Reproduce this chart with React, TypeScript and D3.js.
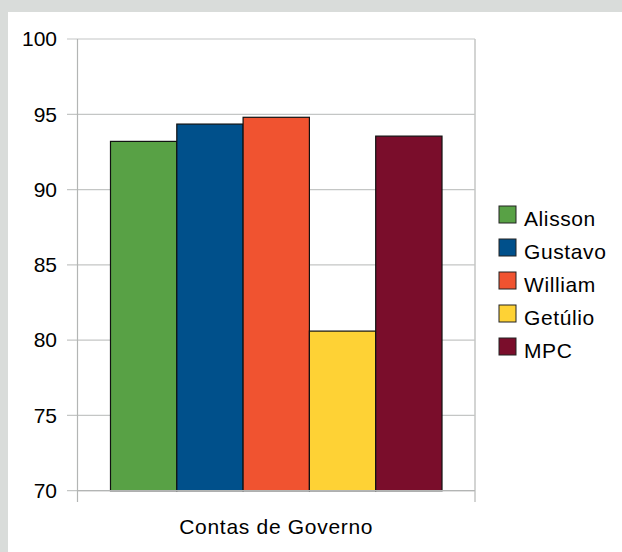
import React from "react";
import * as d3 from "d3";

const categories = ["Contas de Governo"];
const seriesNames = ["Alisson", "Gustavo", "William", "Getúlio", "MPC"];
const seriesValues = [93.2, 94.35, 94.8, 80.6, 93.55];
const seriesColors = ["#58a145", "#00508b", "#f05330", "#fed235", "#7a0d2b"];
const yTicks = [70, 75, 80, 85, 90, 95, 100];

const W = 622;
const H = 552;
const FONT = "'Liberation Sans', Arial, sans-serif";

export default function App() {
  const left = 77.5;
  const right = 475;
  const top = 39;
  const bottom = 490.7;

  const x = d3.scaleBand<string>().domain(categories).range([left, right]).padding(0);
  const y = d3.scaleLinear().domain([70, 100]).range([bottom, top]);

  const cat = categories[0];
  const x0 = x(cat) as number;
  const bw = x.bandwidth();
  const inner = d3
    .scaleBand<string>()
    .domain(seriesNames)
    .range([x0 + bw * 0.083, x0 + bw * 0.917])
    .padding(0);

  const legendX = 499;
  const legendBase = 226;
  const legendStep = 33;

  return (
    <svg
      width={W}
      height={H}
      style={{ position: "fixed", left: 0, top: 0, display: "block" }}
      fontFamily={FONT}
    >
      <rect x={0} y={0} width={W} height={H} fill="#d9dcda" />
      <rect x={8} y={12} width={W - 8} height={H - 12} fill="#ffffff" />

      {/* gridlines */}
      {yTicks.map((t) => (
        <line
          key={"g" + t}
          x1={left - 10.5}
          x2={right}
          y1={y(t)}
          y2={y(t)}
          stroke="#c4c6c5"
          strokeWidth={1.2}
        />
      ))}
      {/* y tick labels */}
      {yTicks.map((t) => (
        <text
          key={"l" + t}
          x={57}
          y={y(t) + 7.3}
          textAnchor="end"
          fontSize={21}
          fill="#000"
        >
          {t}
        </text>
      ))}

      {/* bars */}
      {seriesNames.map((s, i) => (
        <rect
          key={s}
          x={inner(s) as number}
          y={y(seriesValues[i])}
          width={inner.bandwidth()}
          height={y(70) - y(seriesValues[i])}
          fill={seriesColors[i]}
          stroke="#111"
          strokeWidth={1.2}
        />
      ))}

      {/* axes frame */}
      <line x1={left} x2={left} y1={top} y2={502} stroke="#b3b5b4" strokeWidth={1.2} />
      <line x1={right} x2={right} y1={top} y2={502} stroke="#c4c6c5" strokeWidth={1.5} />
      <line x1={left} x2={right} y1={bottom} y2={bottom} stroke="#b3b5b4" strokeWidth={1.2} />

      {/* category label */}
      <text
        x={x0 + bw / 2}
        y={534}
        textAnchor="middle"
        fontSize={21}
        letterSpacing={0.7}
        fill="#000"
      >
        {cat}
      </text>

      {/* legend */}
      {seriesNames.map((s, i) => (
        <g key={"lg" + s}>
          <rect
            x={legendX}
            y={legendBase + i * legendStep - 20}
            width={17}
            height={17}
            fill={seriesColors[i]}
            stroke="#222"
            strokeWidth={1}
          />
          <text
            x={524}
            y={legendBase + i * legendStep}
            fontSize={21}
            letterSpacing={0.6}
            fill="#000"
          >
            {s}
          </text>
        </g>
      ))}
    </svg>
  );
}
